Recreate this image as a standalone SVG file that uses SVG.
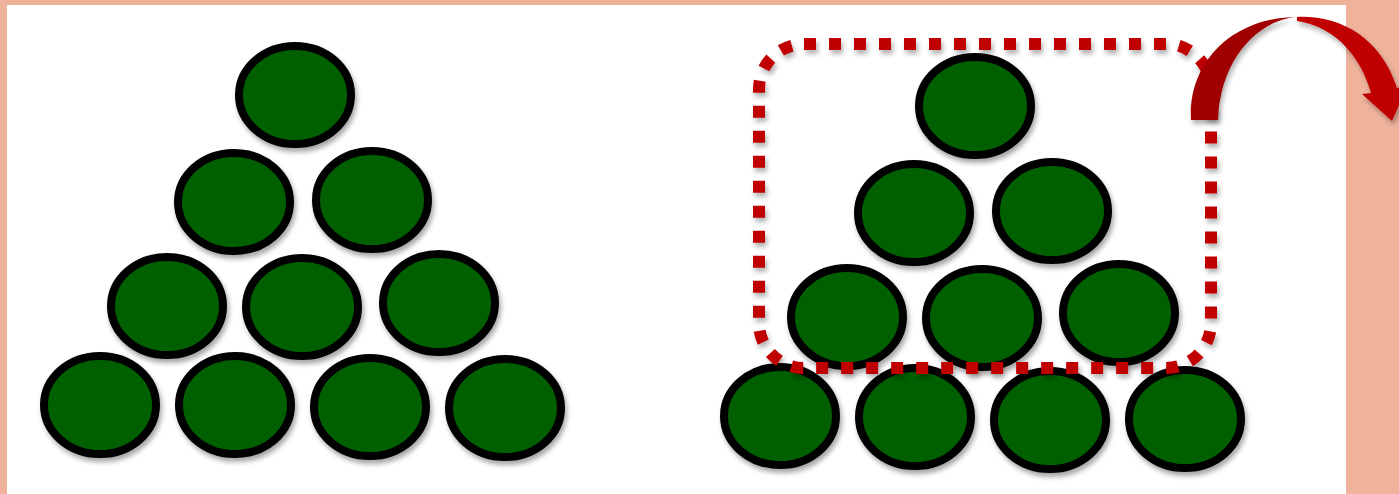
<svg xmlns="http://www.w3.org/2000/svg" width="1399" height="494" viewBox="0 0 1399 494">
<style>
.ball{fill:#006100;stroke:#000;stroke-width:8;filter:url(#sh)}
.sel{fill:none;stroke:#C00000;stroke-width:12;stroke-dasharray:12 13;filter:url(#sh2)}
</style>
<defs>
<filter id="sh" x="-20%" y="-20%" width="150%" height="150%"><feDropShadow dx="2" dy="4" stdDeviation="2.5" flood-color="#000" flood-opacity="0.35"/></filter>
<filter id="sh2" x="-10%" y="-10%" width="120%" height="130%"><feDropShadow dx="2" dy="4" stdDeviation="2.5" flood-color="#000" flood-opacity="0.3"/></filter>
</defs>
<rect x="0" y="0" width="1399" height="494" fill="#EFB39C"/>
<rect x="7" y="5" width="1339" height="489" fill="#FFFFFF"/>
<g id="left-stack">
<ellipse id="l1" class="ball" cx="295" cy="95" rx="56" ry="49"/>
<ellipse id="l2" class="ball" cx="234" cy="202" rx="56" ry="49"/>
<ellipse id="l3" class="ball" cx="372" cy="200" rx="56" ry="49"/>
<ellipse id="l4" class="ball" cx="167" cy="306" rx="56" ry="49"/>
<ellipse id="l5" class="ball" cx="302" cy="307" rx="56" ry="49"/>
<ellipse id="l6" class="ball" cx="439" cy="303" rx="56" ry="49"/>
<ellipse id="l7" class="ball" cx="100" cy="405" rx="56" ry="49"/>
<ellipse id="l8" class="ball" cx="235" cy="405" rx="56" ry="49"/>
<ellipse id="l9" class="ball" cx="370" cy="407" rx="56" ry="49"/>
<ellipse id="l10" class="ball" cx="505" cy="408" rx="56" ry="49"/>
</g>
<g id="right-stack">
<ellipse id="r1" class="ball" cx="975" cy="106" rx="56" ry="49"/>
<ellipse id="r2" class="ball" cx="914" cy="213" rx="56" ry="49"/>
<ellipse id="r3" class="ball" cx="1052" cy="211" rx="56" ry="49"/>
<ellipse id="r4" class="ball" cx="847" cy="317" rx="56" ry="49"/>
<ellipse id="r5" class="ball" cx="982" cy="318" rx="56" ry="49"/>
<ellipse id="r6" class="ball" cx="1119" cy="313" rx="56" ry="49"/>
<ellipse id="r7" class="ball" cx="780" cy="416" rx="56" ry="49"/>
<ellipse id="r8" class="ball" cx="915" cy="417" rx="56" ry="49"/>
<ellipse id="r9" class="ball" cx="1050" cy="420" rx="56" ry="49"/>
<ellipse id="r10" class="ball" cx="1185" cy="419" rx="56" ry="49"/>
</g>
<g id="connectors">
<rect id="selection" class="sel" x="759" y="44" width="452" height="324" rx="45" ry="45"/>
<g id="curved-arrow" filter="url(#sh2)">
<path d="M1297,17 C1337,15 1380,35 1397,88 L1408,85 L1392,121 L1362,94 L1371,93 C1362,60 1338,27 1297,21 Z" fill="#C00000"/>
<path d="M1191,120 C1188,60 1235,17 1297,17 C1257,20 1220,60 1218,120 Z" fill="#A00000"/>
</g>
</g>
</svg>
